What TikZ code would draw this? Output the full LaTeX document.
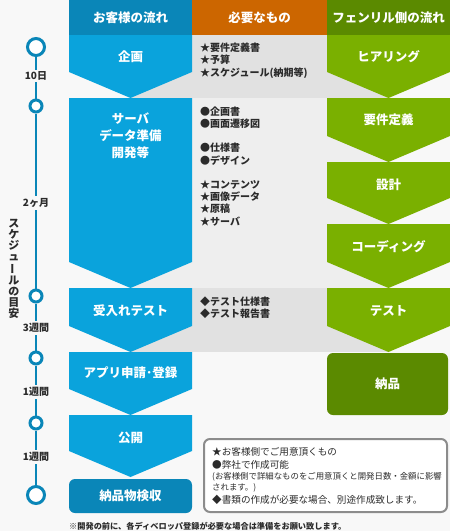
\documentclass[tikz,border=0pt]{standalone}
\usepackage{fontspec}
\setmainfont{Noto Sans CJK JP}
\usepackage{graphicx}
\definecolor{hdblue}{HTML}{0A86B8}
\definecolor{flowblue}{HTML}{0AA3DC}
\definecolor{hdorange}{HTML}{CC6600}
\definecolor{hdgreen}{HTML}{5B8A00}
\definecolor{flowgreen}{HTML}{7AB000}
\definecolor{bandA}{HTML}{E1E1E1}
\definecolor{bandB}{HTML}{EEEEEE}
\definecolor{bgcol}{HTML}{F8F8F8}
\definecolor{txt}{HTML}{2B2B2B}
\definecolor{legline}{HTML}{8C8C8C}
\begin{document}
\begin{tikzpicture}[x=1pt,y=-1pt,
        hd/.style ={text=white, font=\bfseries\fontsize{12.5}{14}\selectfont, minimum height=35pt},
        fl/.style ={text=white, font=\bfseries\fontsize{12.5}{17}\selectfont, align=center},
        ls/.style ={anchor=west, inner sep=0pt, align=left, text=txt, font=\bfseries\fontsize{10}{12.3}\selectfont},
        tk/.style ={circle, draw=hdblue, line width=3pt, fill=white, inner sep=0pt},
        tl/.style ={fill=bgcol, inner sep=2pt, text=txt, font=\bfseries\fontsize{10}{12}\selectfont}]
    \useasboundingbox[fill=bgcol] (0,0) rectangle (450,531);
% Baender und Pfeile
    \fill[bandA] (130.5,35) rectangle (388.5,98);
    \fill[bandB] (130.5,98) rectangle (388.5,288);
    \fill[bandA] (130.5,288) rectangle (388.5,352);
    \foreach \t/\b in {35/98,98/288,288/352,352/415,415/477}
        {\fill[flowblue] (69,\t) -- (192,\t) -- (192,\b-26) -- (130.5,\b) -- (69,\b-26) -- cycle;}
    \foreach \t/\b in {35/98,98/162,162/224,224/288,288/352}
        {\fill[flowgreen] (327,\t) -- (450,\t) -- (450,\b-26) -- (388.5,\b) -- (327,\b-26) -- cycle;}
    \node[hd, fill=hdblue,   minimum width=123pt] (h0) at (130.5,17.5) {お客様の流れ};
    \node[hd, fill=hdorange, minimum width=135pt] (h1) at (259.5,17.5) {必要なもの};
    \node[hd, fill=hdgreen,  minimum width=123pt] (h2) at (388.5,17.5) {フェンリル側の流れ};
    \foreach \y/\l [count=\i from 0] in {57/企画,136/{サーバ\\データ準備\\開発等},311/受入れテスト,373/アプリ申請･登録,438/公開}
        {\node[fl] (c\i) at (130.5,\y) {\l};}
    \node[fl, fill=hdblue, rounded corners=6pt, minimum width=123pt, minimum height=34pt] (c5) at (130.5,496) {納品物検収};
    \foreach \y/\l [count=\i from 0] in {57/ヒアリング,120/要件定義,185/設計,247/コーディング,311/テスト}
        {\node[fl] (f\i) at (388.5,\y) {\l};}
    \node[fl, fill=hdgreen, rounded corners=6pt, minimum width=121pt, minimum height=62pt] (f5) at (387.5,384) {納品};
    \foreach \y/\l [count=\i from 0] in {60.5/{★要件定義書\\★予算\\★スケジュール(納期等)},118/{●企画書\\●画面遷移図},154/{●仕様書\\●デザイン},203/{★コンテンツ\\★画像データ\\★原稿\\★サーバ},308/{◆テスト仕様書\\◆テスト報告書}}
        {\node[ls] (m\i) at (200,\y) {\l};}
% Zeitachse
    \foreach \y/\d [count=\i] in {47/17pt,106/12pt,296/12pt,358/12pt,423/12pt,495/17pt}
        {\node[tk, minimum size=\d] (t\i) at (36,\y) {};}
    \draw[hdblue, line width=2.5pt] (t1) -- (t2) -- (t3) -- (t4) -- (t5) -- (t6);
    \foreach \y/\l [count=\i] in {76/10日,203/2ヶ月,328/3週間,392/1週間,457/1週間}
        {\node[tl] (d\i) at (36,\y) {\l};}
    \node[inner sep=0pt, align=center, text=txt, font=\bfseries\fontsize{11}{11}\selectfont] (sched) at (14,269)
        {ス\\ケ\\ジ\\ュ\\\rotatebox[origin=c]{90}{ー}\\ル\\の\\目\\安};
% Legende
    \node[draw=legline, line width=2pt, rounded corners=6pt, fill=white, minimum width=243pt, minimum height=73pt] (key) at (325.5,475.5) {};
    \foreach \y/\s/\l [count=\i] in {452/9.6/★お客様側でご用意頂くもの,465/9.6/●弊社で作成可能,477/8.4/(お客様側で詳細なものをご用意頂くと開発日数・金額に影響,488/8.4/されます。),500/9.6/◆書類の作成が必要な場合、別途作成致します。}
        {\node[anchor=west, inner sep=0pt, text=txt, font=\fontsize{\s}{\s}\selectfont] (k\i) at (212,\y) {\l};}
    \node[anchor=west, inner sep=0pt, text=txt, font=\bfseries\fontsize{8.2}{10}\selectfont] (note) at (69,526) {※開発の前に、各ディベロッパ登録が必要な場合は準備をお願い致します。};
\end{tikzpicture}
\end{document}
